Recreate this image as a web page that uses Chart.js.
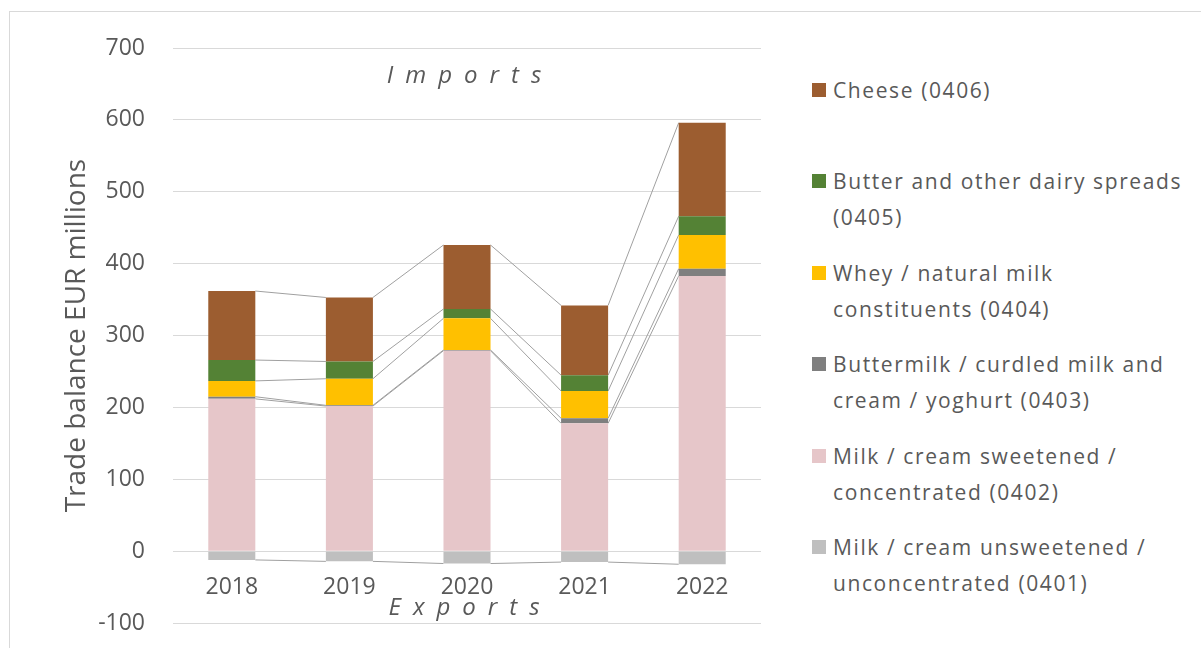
<!DOCTYPE html>
<html>
<head>
<meta charset="utf-8">
<title>Dairy trade balance</title>
<script src="https://cdn.jsdelivr.net/npm/chart.js@4.4.1/dist/chart.umd.min.js"></script>
<style>
  html, body { margin: 0; background: #fff; font-family: "Open Sans", sans-serif; overflow: hidden; }
  #frame { position: absolute; left: 9px; top: 11px; width: 1200px; height: 700px; border: 1px solid #d9d9d9; }
  #chartBox { position: absolute; left: 0; top: 0; width: 780px; height: 665px; }
  #legend { position: absolute; left: 812px; top: 72px; width: 385px; }
  .item { position: relative; height: 91.4px; }
  .item span.box { position: absolute; left: 0; top: 11px; width: 14px; height: 14px; }
  .item div { margin-left: 21px; font-size: 21px; line-height: 36px; letter-spacing: 1.6px; color: #595959; white-space: pre-line; }
</style>
</head>
<body>
<div id="frame"></div>
<div id="chartBox"><canvas id="tradeChart"></canvas></div>
<div id="legend"></div>

<script>
// ---- data (EUR millions) ----
const years = ['2018', '2019', '2020', '2021', '2022'];
const unsweetened0401 = [-12, -14, -17, -15, -18];
const sweetened0402 = [212, 202, 279, 178, 383];
const buttermilk0403 = [3, 1, 1, 7, 10];
const whey0404 = [22, 37, 44, 38, 47];
const butter0405 = [29, 24, 13, 22, 26];
const cheese0406 = [96, 89, 89, 97, 130];

const seriesLabels = [
  'Milk / cream unsweetened /\nunconcentrated (0401)',
  'Milk / cream sweetened /\nconcentrated (0402)',
  'Buttermilk / curdled milk and\ncream / yoghurt (0403)',
  'Whey / natural milk\nconstituents (0404)',
  'Butter and other dairy spreads\n(0405)',
  'Cheese (0406)'
];
const seriesColors = ['#bfbfbf', '#e6c6c9', '#7f7f7f', '#ffc000', '#548235', '#9c5d30'];
const seriesValues = [unsweetened0401, sweetened0402, buttermilk0403, whey0404, butter0405, cheese0406];

const yMin = -100, yMax = 700, yStep = 100;

const textGrey = '#595959';
Chart.defaults.font.family = '"Open Sans", sans-serif';
Chart.defaults.color = textGrey;

// Excel-style series lines joining the same segment of neighbouring bars
const seriesLines = {
  id: 'seriesLines',
  beforeDatasetsDraw(chart) {
    const ctx = chart.ctx;
    ctx.save();
    ctx.strokeStyle = '#a0a0a0';
    ctx.lineWidth = 1;
    chart.data.datasets.forEach((ds, d) => {
      const bars = chart.getDatasetMeta(d).data;
      for (let i = 0; i < bars.length - 1; i++) {
        const a = bars[i], b = bars[i + 1];
        ctx.beginPath();
        ctx.moveTo(a.x + a.width / 2, a.y);
        ctx.lineTo(b.x - b.width / 2, b.y);
        ctx.stroke();
      }
    });
    ctx.restore();
  }
};

// "Imports" / "Exports" captions above and below the zero line
const flowCaptions = {
  id: 'flowCaptions',
  afterDraw(chart) {
    const ctx = chart.ctx;
    const x = chart.scales.x, y = chart.scales.y;
    const mid = (x.left + x.right) / 2 - 3;
    ctx.save();
    ctx.font = 'italic 24px "Open Sans", sans-serif';
    ctx.fillStyle = textGrey;
    ctx.letterSpacing = '12px';
    ctx.textBaseline = 'alphabetic';
    [['Imports', 651], ['Exports', -88]].forEach(([txt, v]) => {
      const w = ctx.measureText(txt).width - 12;
      ctx.fillText(txt, mid - w / 2, y.getPixelForValue(v));
    });
    ctx.restore();
  }
};

const tradeChart = new Chart(document.getElementById('tradeChart'), {
  type: 'bar',
  data: {
    labels: years,
    datasets: seriesValues.map((vals, i) => ({
      label: seriesLabels[i],
      data: vals,
      backgroundColor: seriesColors[i],
      borderWidth: 0,
      barPercentage: 0.4,
      categoryPercentage: 1
    }))
  },
  options: {
    responsive: true,
    maintainAspectRatio: false,
    animation: false,
    layout: { padding: { top: 48, bottom: 26, left: 0, right: 19 } },
    plugins: {
      legend: { display: false },
      tooltip: { enabled: false }
    },
    scales: {
      x: {
        stacked: true,
        position: { y: 0 },
        grid: { display: false },
        border: { display: false },
        ticks: { font: { size: 23 }, padding: 14, color: textGrey }
      },
      y: {
        stacked: true,
        min: yMin,
        max: yMax,
        afterFit: s => { s.width = 173; },
        grid: { color: '#d9d9d9', drawTicks: false },
        border: { display: false },
        ticks: { stepSize: yStep, font: { size: 23 }, padding: 28, color: textGrey },
        title: {
          display: true,
          text: 'Trade balance EUR millions',
          font: { size: 28 },
          color: textGrey,
          padding: { top: 60, bottom: 0 }
        }
      }
    }
  },
  plugins: [seriesLines, flowCaptions]
});

// legend on the right, top series first
const legend = document.getElementById('legend');
tradeChart.data.datasets.slice().reverse().forEach(ds => {
  const item = document.createElement('div');
  item.className = 'item';
  const box = document.createElement('span');
  box.className = 'box';
  box.style.background = ds.backgroundColor;
  const txt = document.createElement('div');
  txt.textContent = ds.label;
  item.appendChild(box);
  item.appendChild(txt);
  legend.appendChild(item);
});
</script>
</body>
</html>
